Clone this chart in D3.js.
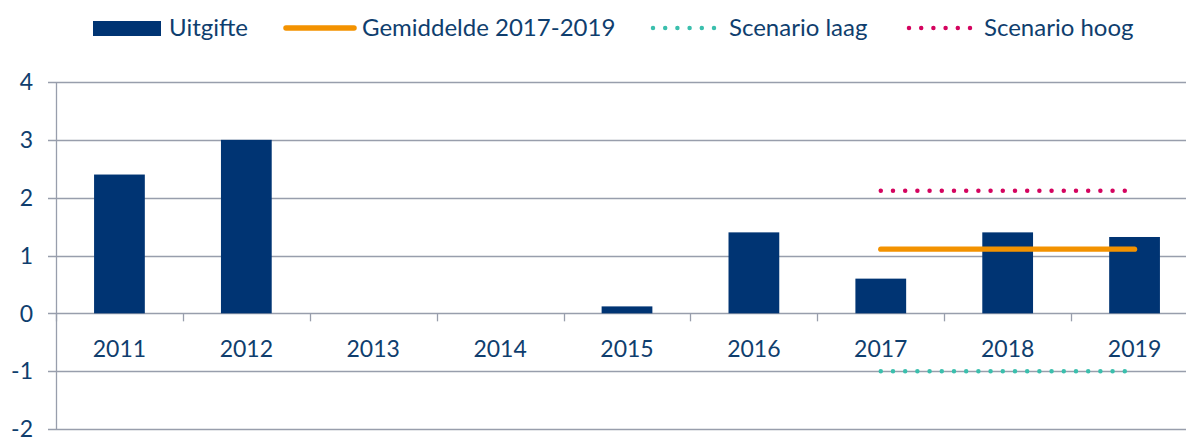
<!DOCTYPE html>
<head>
  <meta charset="utf-8">
  <script src="https://d3js.org/d3.v7.min.js"></script>
  <style>
    body { margin:0; background:#fff; }
    text { font-family: Lato, "Open Sans", sans-serif; fill:#0f3e6e; }
  </style>
</head>
<body>
<script>

/* Data */
/* ==== */

var years = ['2011', '2012', '2013', '2014', '2015', '2016', '2017', '2018', '2019'];
var uitgifte = [2.4, 3.0, 0, 0, 0.12, 1.4, 0.6, 1.4, 1.32];
var gemiddelde = [1.11, 1.11, 1.11];      // 2017-2019
var scenarioLaag = [-1.0, -1.0, -1.0];
var scenarioHoog = [2.12, 2.12, 2.12];
var scenarioYears = ['2017', '2018', '2019'];
var yTicks = [-2, -1, 0, 1, 2, 3, 4];

var legendItems = ['Uitgifte', 'Gemiddelde 2017-2019', 'Scenario laag', 'Scenario hoog'];

/* Set up */
/* ====== */

var width = 1186,
    height = 437;

// plot area runs past the right edge of the picture (cropped like the original)
var margin = { top: 82, left: 56, right: 1198, bottom: 429 };

var colors = {
  bar: '#003473',
  avg: '#f39200',
  laag: '#3bbfad',
  hoog: '#d4045f',
  grid: '#989eac'
};

var svg = d3.select('body')
  .append('svg')
    .attr('width', width)
    .attr('height', height);

var xBand = d3.scaleBand()
    .domain(years)
    .range([margin.left, margin.right]);

var barW = xBand.bandwidth() * 0.4;

var y = d3.scaleLinear()
    .domain([-2, 4])
    .range([margin.bottom, margin.top]);

// gridlines + y ticks
svg.append('g')
  .selectAll('line')
  .data(yTicks)
  .enter().append('line')
    .attr('x1', margin.left - 8)
    .attr('x2', width)
    .attr('y1', function(d) { return Math.round(y(d)) + 0.5; })
    .attr('y2', function(d) { return Math.round(y(d)) + 0.5; })
    .attr('stroke', colors.grid)
    .attr('stroke-width', 1.3);

svg.append('g')
  .selectAll('text')
  .data(yTicks)
  .enter().append('text')
    .attr('x', 33)
    .attr('y', function(d) { return y(d); })
    .attr('dy', '0.36em')
    .attr('text-anchor', 'end')
    .style('font-size', '23px')
    .text(function(d) { return d; });

// y axis line
svg.append('line')
    .attr('x1', margin.left + 0.5).attr('x2', margin.left + 0.5)
    .attr('y1', y(4)).attr('y2', y(-2))
    .attr('stroke', colors.grid)
    .attr('stroke-width', 1.3);

// category ticks on zero line
svg.append('g')
  .selectAll('line')
  .data(years)
  .enter().append('line')
    .attr('x1', function(d) { return Math.round(xBand(d)) + 0.5; })
    .attr('x2', function(d) { return Math.round(xBand(d)) + 0.5; })
    .attr('y1', y(0))
    .attr('y2', y(0) + 8)
    .attr('stroke', colors.grid)
    .attr('stroke-width', 1.3);

// bars
svg.append('g')
  .selectAll('rect')
  .data(uitgifte)
  .enter().append('rect')
    .attr('x', function(d, i) { return xBand(years[i]) + (xBand.bandwidth() - barW) / 2; })
    .attr('width', barW)
    .attr('y', function(d) { return y(Math.max(0, d)); })
    .attr('height', function(d) { return Math.abs(y(d) - y(0)); })
    .attr('fill', colors.bar);

// x labels
svg.append('g')
  .selectAll('text')
  .data(years)
  .enter().append('text')
    .attr('x', function(d) { return xBand(d) + xBand.bandwidth() / 2; })
    .attr('y', 357)
    .attr('text-anchor', 'middle')
    .style('font-size', '23px')
    .text(function(d) { return d; });

// scenario + average lines
var line = d3.line()
    .x(function(d, i) { return xBand(scenarioYears[i]) + xBand.bandwidth() / 2; })
    .y(function(d) { return y(d); });

function drawLine(data, color, dotted) {
  svg.append('path')
      .datum(data)
      .attr('d', line)
      .attr('fill', 'none')
      .attr('stroke', color)
      .attr('stroke-width', dotted ? 4.5 : 5.3)
      .attr('stroke-linecap', 'round')
      .attr('stroke-dasharray', dotted ? '0 12.2' : null);
}

drawLine(scenarioHoog, colors.hoog, true);
drawLine(scenarioLaag, colors.laag, true);
drawLine(gemiddelde, colors.avg, false);

/* Legend */
/* ====== */

var legendY = 28;
var lg = svg.append('g');

lg.append('rect')
    .attr('x', 93).attr('y', 21)
    .attr('width', 68).attr('height', 15)
    .attr('fill', colors.bar);
lg.append('line')
    .attr('x1', 286).attr('x2', 354)
    .attr('y1', legendY).attr('y2', legendY)
    .attr('stroke', colors.avg).attr('stroke-width', 5.5)
    .attr('stroke-linecap', 'round');
lg.append('line')
    .attr('x1', 653).attr('x2', 714)
    .attr('y1', legendY).attr('y2', legendY)
    .attr('stroke', colors.laag).attr('stroke-width', 4.5)
    .attr('stroke-linecap', 'round')
    .attr('stroke-dasharray', '0 12.2');
lg.append('line')
    .attr('x1', 909).attr('x2', 970)
    .attr('y1', legendY).attr('y2', legendY)
    .attr('stroke', colors.hoog).attr('stroke-width', 4.5)
    .attr('stroke-linecap', 'round')
    .attr('stroke-dasharray', '0 12.2');

var legendX = [169, 362, 729, 984];
lg.selectAll('text.legend')
  .data(legendItems)
  .enter().append('text')
    .attr('class', 'legend')
    .attr('x', function(d, i) { return legendX[i]; })
    .attr('y', 36)
    .style('font-size', '24px')
    .text(function(d) { return d; });

</script>
</body>
